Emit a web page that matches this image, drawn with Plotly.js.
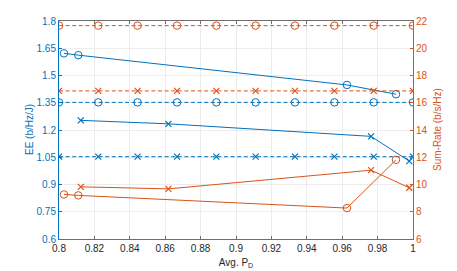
<!DOCTYPE html>
<html><head><meta charset="utf-8">
<script src="https://cdn.plot.ly/plotly-3.0.1.min.js"></script>
<style>html,body{margin:0;padding:0;background:#fff}#c{width:457px;height:271px}</style>
</head><body><div id="c"></div>
<script>
// Marker grid for constant (dashed) reference curves
const pdGrid = [0.8, 0.8222, 0.8444, 0.8667, 0.8889, 0.9111, 0.9333, 0.9556, 0.9778, 1.0];
// Constant reference values
const eeRefCircle = 1.352;   // EE, blue dashed o
const eeRefCross = 1.053;    // EE, blue dashed x
const srRefCircle = 21.66;   // Sum-rate, orange dashed o
const srRefCross = 16.87;    // Sum-rate, orange dashed x
// Solid curves (circle scheme)
const pdCircle = [0.8028, 0.8109, 0.9627, 0.9904];
const eeCircle = [1.622, 1.612, 1.448, 1.397];
const srCircle = [9.27, 9.20, 8.27, 11.81];
// Solid curves (cross scheme)
const pdCross = [0.8123, 0.8618, 0.9763, 0.9979];
const eeCross = [1.253, 1.234, 1.165, 1.029];
const srCross = [9.83, 9.68, 11.05, 9.76];
// Tick labels
const xTickVals = [0.8,0.82,0.84,0.86,0.88,0.9,0.92,0.94,0.96,0.98,1];
const xTickText = ['0.8','0.82','0.84','0.86','0.88','0.9','0.92','0.94','0.96','0.98','1'];
const yTickVals = [0.6,0.75,0.9,1.05,1.2,1.35,1.5,1.65,1.8];
const yTickText = ['0.6','0.75','0.9','1.05','1.2','1.35','1.5','1.65','1.8'];
const y2TickVals = [6,8,10,12,14,16,18,20,22];

const BLUE = '#0072BD', ORANGE = '#D95319';
const dashS = '4px,2.6px';
const circ = (c) => ({symbol:'circle-open', size:7.5, color:c, line:{width:1, color:c}});
const crs = (c) => ({symbol:'x-thin-open', size:6, color:c, line:{width:1.2, color:c}});

const traces = [
  {x: pdGrid, y: pdGrid.map(()=>srRefCircle), yaxis:'y2', mode:'lines+markers',
   line:{color:ORANGE, width:1, dash:dashS}, marker:circ(ORANGE)},
  {x: pdGrid, y: pdGrid.map(()=>srRefCross), yaxis:'y2', mode:'lines+markers',
   line:{color:ORANGE, width:1, dash:dashS}, marker:crs(ORANGE)},
  {x: pdGrid, y: pdGrid.map(()=>eeRefCircle), yaxis:'y', mode:'lines+markers',
   line:{color:BLUE, width:1, dash:dashS}, marker:circ(BLUE)},
  {x: pdGrid, y: pdGrid.map(()=>eeRefCross), yaxis:'y', mode:'lines+markers',
   line:{color:BLUE, width:1, dash:dashS}, marker:crs(BLUE)},
  {x: pdCircle, y: eeCircle, yaxis:'y', mode:'lines+markers',
   line:{color:BLUE, width:1}, marker:circ(BLUE)},
  {x: pdCross, y: eeCross, yaxis:'y', mode:'lines+markers',
   line:{color:BLUE, width:1}, marker:crs(BLUE)},
  {x: pdCircle, y: srCircle, yaxis:'y2', mode:'lines+markers',
   line:{color:ORANGE, width:1}, marker:circ(ORANGE)},
  {x: pdCross, y: srCross, yaxis:'y2', mode:'lines+markers',
   line:{color:ORANGE, width:1}, marker:crs(ORANGE)}
];

const font = {family:'Liberation Sans, Arial, Helvetica, sans-serif', size:10, color:'#262626'};
const layout = {
  width:457, height:271, showlegend:false,
  paper_bgcolor:'#fff', plot_bgcolor:'#fff', font: font,
  margin:{l:59, r:44, t:21, b:32},
  xaxis:{range:[0.8,1], tickvals:xTickVals, ticktext:xTickText, showgrid:true,
    gridcolor:'#ececec', gridwidth:1, zeroline:false, showline:true, linecolor:'#6e6e6e',
    linewidth:1, mirror:'ticks', ticks:'inside', ticklen:3, tickcolor:'#6e6e6e',
    tickfont:{size:10, color:'#262626'},
    title:{text:'Avg. P<sub>D</sub>', font:{size:10, color:'#262626'}, standoff:5}, automargin:false},
  yaxis:{range:[0.6,1.8], tickvals:yTickVals, ticktext:yTickText, showgrid:true,
    gridcolor:'#ececec', gridwidth:1, zeroline:false, showline:true, linecolor:BLUE,
    linewidth:1, ticks:'inside', ticklen:3, tickcolor:BLUE,
    tickfont:{size:10, color:BLUE}, automargin:false},
  yaxis2:{range:[6,22], tickvals:y2TickVals, overlaying:'y', side:'right', showgrid:false,
    zeroline:false, showline:true, linecolor:ORANGE, linewidth:1, ticks:'inside', ticklen:3,
    tickcolor:ORANGE, tickfont:{size:10, color:ORANGE}, automargin:false},
  annotations:[
    {text:'EE (b/Hz/J)', xref:'paper', yref:'paper', x:-0.0847, y:0.5, xanchor:'center',
     yanchor:'middle', textangle:-90, showarrow:false, font:{size:10, color:BLUE}},
    {text:'Sum-Rate (b/s/Hz)', xref:'paper', yref:'paper', x:1.0678, y:0.5, xanchor:'center',
     yanchor:'middle', textangle:-90, showarrow:false, font:{size:10, color:ORANGE}}
  ]
};
Plotly.newPlot('c', traces, layout, {displayModeBar:false, staticPlot:true});
</script></body></html>
